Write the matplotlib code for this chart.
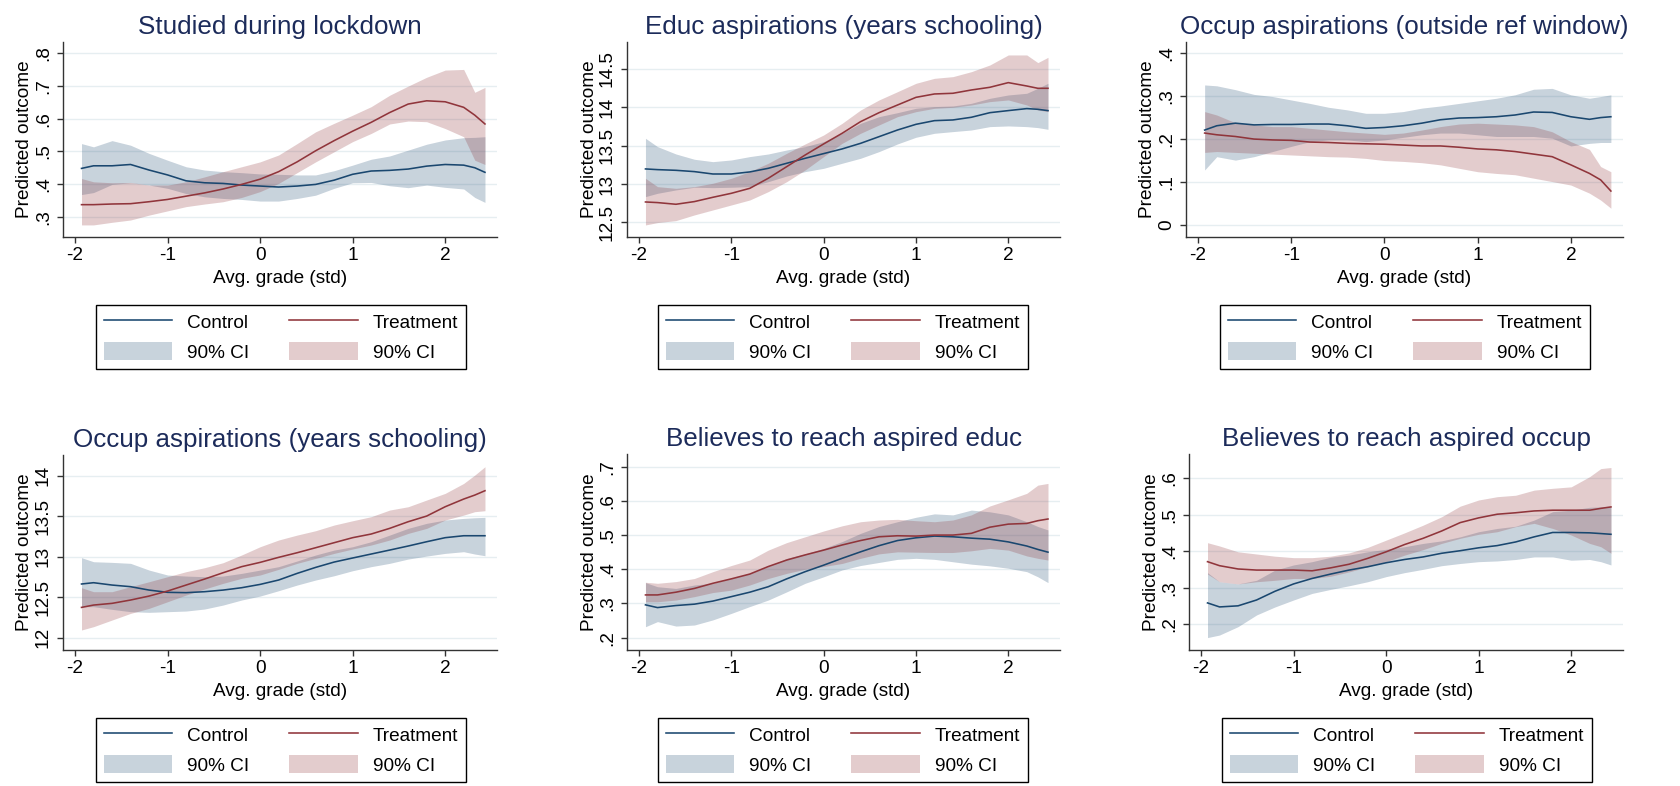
"""Predicted outcome by average grade, control vs treatment, six outcomes (Stata-style grid)."""
import matplotlib

matplotlib.use("Agg")
import matplotlib.pyplot as plt  # noqa: E402
from matplotlib.lines import Line2D  # noqa: E402
from matplotlib.patches import Patch  # noqa: E402

plt.rcParams["font.family"] = ["Liberation Sans", "DejaVu Sans"]

NAVY = "#1a476f"
MAROON = "#90353b"
TITLE = "#1c2b5a"
GRID = "#e6eef1"
AXIS = "#333333"

W, H = 1680, 786
FS = 13.7

# x grid of the local fits (avg. grade, std)
XS = [-1.93, -1.8, -1.6, -1.4, -1.2, -1.0, -0.8, -0.6, -0.4, -0.2, 0.0, 0.2,
      0.4, 0.6, 0.8, 1.0, 1.2, 1.4, 1.6, 1.8, 2.0, 2.2, 2.32, 2.43]

# 1. Studied during lockdown
studied_ctrl = [0.448, 0.456, 0.456, 0.460, 0.443, 0.428, 0.410, 0.404, 0.402, 0.397, 0.394, 0.391,
                0.394, 0.399, 0.412, 0.430, 0.440, 0.442, 0.446, 0.455, 0.460, 0.458, 0.450, 0.436]
studied_ctrl_hi = [0.524, 0.514, 0.533, 0.519, 0.494, 0.473, 0.453, 0.443, 0.438, 0.435, 0.431, 0.430,
                   0.428, 0.428, 0.441, 0.458, 0.476, 0.486, 0.504, 0.522, 0.535, 0.542, 0.543, 0.545]
studied_ctrl_lo = [0.368, 0.374, 0.399, 0.404, 0.397, 0.387, 0.371, 0.361, 0.356, 0.353, 0.348, 0.348,
                   0.356, 0.366, 0.387, 0.404, 0.405, 0.395, 0.389, 0.397, 0.390, 0.385, 0.359, 0.344]
studied_treat = [0.337, 0.337, 0.339, 0.340, 0.346, 0.353, 0.363, 0.373, 0.385, 0.399, 0.415, 0.438,
                 0.468, 0.502, 0.533, 0.562, 0.589, 0.619, 0.645, 0.655, 0.652, 0.635, 0.611, 0.584]
studied_treat_hi = [0.417, 0.407, 0.404, 0.405, 0.397, 0.397, 0.407, 0.422, 0.438, 0.453, 0.468, 0.489,
                    0.524, 0.560, 0.586, 0.611, 0.637, 0.672, 0.700, 0.727, 0.749, 0.751, 0.681, 0.696]
studied_treat_lo = [0.275, 0.275, 0.283, 0.290, 0.305, 0.318, 0.331, 0.339, 0.346, 0.359, 0.377, 0.402,
                    0.435, 0.468, 0.499, 0.530, 0.555, 0.584, 0.593, 0.591, 0.570, 0.545, 0.473, 0.460]

# 2. Educ aspirations (years schooling)
educ_ctrl = [13.196, 13.187, 13.178, 13.161, 13.130, 13.130, 13.157, 13.204, 13.270, 13.335, 13.396, 13.457,
             13.530, 13.617, 13.704, 13.778, 13.826, 13.835, 13.870, 13.930, 13.957, 13.983, 13.974, 13.957]
educ_ctrl_hi = [13.596, 13.487, 13.391, 13.322, 13.291, 13.313, 13.357, 13.391, 13.443, 13.487, 13.552, 13.661,
                13.791, 13.878, 13.930, 13.987, 14.009, 14.017, 14.052, 14.117, 14.161, 14.183, 14.248, 14.313]
educ_ctrl_lo = [12.835, 12.878, 12.922, 12.957, 12.952, 12.957, 12.965, 13.030, 13.104, 13.161, 13.204, 13.270,
                13.335, 13.422, 13.522, 13.609, 13.661, 13.683, 13.704, 13.748, 13.757, 13.748, 13.735, 13.713]
educ_treat = [12.765, 12.757, 12.735, 12.770, 12.826, 12.878, 12.943, 13.074, 13.226, 13.378, 13.522, 13.661,
              13.813, 13.930, 14.030, 14.130, 14.174, 14.183, 14.226, 14.261, 14.322, 14.278, 14.248, 14.248]
educ_treat_hi = [13.074, 12.965, 12.943, 12.965, 13.009, 13.074, 13.161, 13.270, 13.400, 13.522, 13.639, 13.791,
                 13.965, 14.096, 14.204, 14.313, 14.378, 14.400, 14.465, 14.552, 14.683, 14.683, 14.583, 14.652]
educ_treat_lo = [12.465, 12.496, 12.522, 12.596, 12.661, 12.726, 12.791, 12.900, 13.030, 13.183, 13.357, 13.530,
                 13.661, 13.770, 13.878, 13.943, 13.987, 14.000, 14.030, 14.074, 14.096, 14.030, 13.965, 13.943]

# 3. Occup aspirations (outside ref window)
outside_ctrl = [0.221, 0.231, 0.237, 0.233, 0.234, 0.234, 0.235, 0.235, 0.231, 0.225, 0.227, 0.231,
                0.237, 0.245, 0.249, 0.250, 0.252, 0.256, 0.263, 0.262, 0.252, 0.246, 0.250, 0.252]
outside_ctrl_hi = [0.326, 0.324, 0.315, 0.304, 0.299, 0.291, 0.283, 0.274, 0.268, 0.260, 0.260, 0.264,
                   0.272, 0.277, 0.283, 0.289, 0.295, 0.303, 0.316, 0.318, 0.303, 0.295, 0.299, 0.303]
outside_ctrl_lo = [0.128, 0.159, 0.151, 0.159, 0.171, 0.183, 0.194, 0.198, 0.198, 0.194, 0.198, 0.204,
                   0.210, 0.214, 0.214, 0.210, 0.206, 0.206, 0.206, 0.202, 0.184, 0.190, 0.192, 0.192]
outside_treat = [0.214, 0.210, 0.206, 0.200, 0.198, 0.197, 0.193, 0.192, 0.190, 0.189, 0.188, 0.186,
                 0.184, 0.184, 0.181, 0.177, 0.175, 0.171, 0.165, 0.159, 0.140, 0.120, 0.105, 0.079]
outside_treat_hi = [0.264, 0.256, 0.238, 0.233, 0.229, 0.229, 0.225, 0.221, 0.217, 0.214, 0.211, 0.214,
                    0.221, 0.229, 0.235, 0.237, 0.235, 0.233, 0.229, 0.217, 0.194, 0.176, 0.136, 0.124]
outside_treat_lo = [0.169, 0.171, 0.169, 0.167, 0.165, 0.163, 0.161, 0.159, 0.158, 0.155, 0.150, 0.148,
                    0.145, 0.140, 0.132, 0.124, 0.120, 0.117, 0.109, 0.101, 0.093, 0.074, 0.058, 0.039]

# 4. Occup aspirations (years schooling)
occyrs_ctrl = [12.663, 12.679, 12.650, 12.630, 12.588, 12.560, 12.556, 12.568, 12.588, 12.617, 12.658, 12.712,
               12.794, 12.868, 12.934, 12.984, 13.033, 13.082, 13.132, 13.185, 13.235, 13.259, 13.259, 13.259]
occyrs_ctrl_hi = [12.988, 12.938, 12.930, 12.918, 12.835, 12.774, 12.761, 12.753, 12.761, 12.794, 12.835, 12.877,
                  12.947, 13.021, 13.082, 13.123, 13.185, 13.267, 13.350, 13.412, 13.453, 13.473, 13.481, 13.486]
occyrs_ctrl_lo = [12.383, 12.383, 12.350, 12.321, 12.313, 12.321, 12.329, 12.354, 12.403, 12.465, 12.514, 12.580,
                  12.650, 12.712, 12.765, 12.827, 12.877, 12.918, 12.971, 13.008, 13.041, 13.062, 13.033, 13.012]
occyrs_treat = [12.374, 12.403, 12.424, 12.465, 12.514, 12.576, 12.650, 12.724, 12.802, 12.877, 12.930, 12.992,
                13.049, 13.111, 13.173, 13.235, 13.280, 13.350, 13.432, 13.502, 13.617, 13.712, 13.761, 13.815]
occyrs_treat_hi = [12.617, 12.568, 12.568, 12.630, 12.691, 12.753, 12.815, 12.864, 12.926, 13.021, 13.123, 13.206,
                   13.267, 13.321, 13.391, 13.444, 13.494, 13.576, 13.617, 13.700, 13.782, 13.905, 14.008, 14.111]
occyrs_treat_lo = [12.095, 12.136, 12.218, 12.300, 12.362, 12.444, 12.527, 12.601, 12.671, 12.733, 12.774, 12.844,
                   12.918, 12.979, 13.041, 13.095, 13.144, 13.206, 13.288, 13.350, 13.453, 13.514, 13.556, 13.568]

# 5. Believes to reach aspired educ
reached_ctrl = [0.296, 0.288, 0.294, 0.298, 0.307, 0.320, 0.333, 0.349, 0.372, 0.393, 0.412, 0.432,
                0.451, 0.469, 0.484, 0.492, 0.497, 0.495, 0.491, 0.488, 0.480, 0.468, 0.458, 0.450]
reached_ctrl_hi = [0.361, 0.349, 0.344, 0.354, 0.359, 0.373, 0.388, 0.408, 0.432, 0.445, 0.461, 0.481,
                   0.505, 0.525, 0.539, 0.552, 0.562, 0.559, 0.573, 0.568, 0.559, 0.539, 0.525, 0.515]
reached_ctrl_lo = [0.232, 0.247, 0.234, 0.237, 0.252, 0.271, 0.291, 0.310, 0.334, 0.359, 0.378, 0.398,
                   0.411, 0.420, 0.429, 0.432, 0.429, 0.422, 0.415, 0.410, 0.403, 0.393, 0.378, 0.361]
reached_treat = [0.325, 0.325, 0.333, 0.344, 0.359, 0.372, 0.386, 0.408, 0.427, 0.442, 0.456, 0.471,
                 0.484, 0.495, 0.498, 0.497, 0.500, 0.500, 0.505, 0.523, 0.532, 0.534, 0.542, 0.547]
reached_treat_hi = [0.362, 0.359, 0.364, 0.373, 0.393, 0.411, 0.427, 0.456, 0.478, 0.495, 0.512, 0.527,
                    0.539, 0.544, 0.546, 0.542, 0.539, 0.544, 0.559, 0.585, 0.603, 0.622, 0.646, 0.651]
reached_treat_lo = [0.305, 0.305, 0.310, 0.320, 0.332, 0.339, 0.354, 0.373, 0.388, 0.400, 0.408, 0.417,
                    0.432, 0.445, 0.451, 0.450, 0.449, 0.449, 0.454, 0.461, 0.456, 0.439, 0.432, 0.427]

# 6. Believes to reach aspired occup
roccup_ctrl = [0.259, 0.248, 0.251, 0.267, 0.291, 0.311, 0.326, 0.338, 0.349, 0.358, 0.369, 0.378,
               0.385, 0.395, 0.402, 0.410, 0.416, 0.426, 0.440, 0.452, 0.452, 0.451, 0.449, 0.447]
roccup_ctrl_hi = [0.342, 0.317, 0.311, 0.321, 0.349, 0.363, 0.372, 0.384, 0.390, 0.399, 0.406, 0.413,
                  0.422, 0.429, 0.440, 0.454, 0.463, 0.469, 0.486, 0.509, 0.513, 0.521, 0.522, 0.522]
roccup_ctrl_lo = [0.164, 0.171, 0.194, 0.226, 0.248, 0.267, 0.285, 0.296, 0.306, 0.317, 0.331, 0.342,
                  0.351, 0.361, 0.367, 0.372, 0.374, 0.378, 0.385, 0.385, 0.376, 0.378, 0.372, 0.363]
roccup_treat = [0.372, 0.361, 0.352, 0.349, 0.349, 0.349, 0.347, 0.355, 0.365, 0.381, 0.399, 0.419,
                0.436, 0.456, 0.479, 0.492, 0.502, 0.506, 0.511, 0.513, 0.513, 0.513, 0.518, 0.522]
roccup_treat_hi = [0.424, 0.415, 0.399, 0.393, 0.387, 0.383, 0.383, 0.387, 0.396, 0.411, 0.431, 0.451,
                   0.472, 0.495, 0.524, 0.541, 0.550, 0.554, 0.568, 0.573, 0.577, 0.605, 0.627, 0.630]
roccup_treat_lo = [0.338, 0.317, 0.311, 0.317, 0.321, 0.326, 0.326, 0.332, 0.344, 0.358, 0.372, 0.390,
                   0.405, 0.422, 0.436, 0.447, 0.454, 0.468, 0.477, 0.463, 0.445, 0.422, 0.413, 0.395]

TITLES = [
    "Studied during lockdown",
    "Educ aspirations (years schooling)",
    "Occup aspirations (outside ref window)",
    "Occup aspirations (years schooling)",
    "Believes to reach aspired educ",
    "Believes to reach aspired occup",
]
YTICKS = [
    [0.3, 0.4, 0.5, 0.6, 0.7, 0.8],
    [12.5, 13, 13.5, 14, 14.5],
    [0, 0.1, 0.2, 0.3, 0.4],
    [12, 12.5, 13, 13.5, 14],
    [0.2, 0.3, 0.4, 0.5, 0.6, 0.7],
    [0.2, 0.3, 0.4, 0.5, 0.6],
]
YTICKLABELS = [
    [".3", ".4", ".5", ".6", ".7", ".8"],
    ["12.5", "13", "13.5", "14", "14.5"],
    ["0", ".1", ".2", ".3", ".4"],
    ["12", "12.5", "13", "13.5", "14"],
    [".2", ".3", ".4", ".5", ".6", ".7"],
    [".2", ".3", ".4", ".5", ".6"],
]
XTICKS = [-2, -1, 0, 1, 2]

SERIES = [
    (studied_ctrl, studied_ctrl_lo, studied_ctrl_hi, studied_treat, studied_treat_lo, studied_treat_hi),
    (educ_ctrl, educ_ctrl_lo, educ_ctrl_hi, educ_treat, educ_treat_lo, educ_treat_hi),
    (outside_ctrl, outside_ctrl_lo, outside_ctrl_hi, outside_treat, outside_treat_lo, outside_treat_hi),
    (occyrs_ctrl, occyrs_ctrl_lo, occyrs_ctrl_hi, occyrs_treat, occyrs_treat_lo, occyrs_treat_hi),
    (reached_ctrl, reached_ctrl_lo, reached_ctrl_hi, reached_treat, reached_treat_lo, reached_treat_hi),
    (roccup_ctrl, roccup_ctrl_lo, roccup_ctrl_hi, roccup_treat, roccup_treat_lo, roccup_treat_hi),
]

# layout in pixels: axes (left, right, top, bottom), y limits, legend centre
AX_PX = [(63, 497, 42, 237), (627, 1060, 42, 237), (1186, 1623, 42, 237),
         (63, 497, 455, 650), (627, 1060, 454, 650), (1189, 1623, 454, 650)]
YLIMS = [(0.238, 0.835), (12.308, 14.852), (-0.028, 0.426),
         (11.848, 14.256), (0.164, 0.737), (0.130, 0.667)]
LEG_PX = [(281, 337), (843, 337), (1405, 337), (281, 750), (843, 750), (1407, 750)]

fig = plt.figure(figsize=(W / 100, H / 100), dpi=100)
fig.patch.set_facecolor("white")

for i in range(6):
    x0, x1, yt, yb = AX_PX[i]
    ax = fig.add_axes([x0 / W, 1 - yb / H, (x1 - x0) / W, (yb - yt) / H])
    c, clo, chi, t, tlo, thi = SERIES[i]

    ax.fill_between(XS, clo, chi, color=NAVY, alpha=0.24, lw=0)
    ax.fill_between(XS, tlo, thi, color=MAROON, alpha=0.25, lw=0)
    ax.plot(XS, c, color=NAVY, lw=1.15)
    ax.plot(XS, t, color=MAROON, lw=1.15)

    ax.set_xlim(-2.13, 2.56)
    ax.set_ylim(*YLIMS[i])
    ax.set_xticks(XTICKS)
    ax.set_xticklabels([str(v) for v in XTICKS])
    ax.set_yticks(YTICKS[i])
    ax.set_yticklabels(YTICKLABELS[i], rotation=90, va="center")
    ax.grid(axis="y", color=GRID, lw=1.0)
    ax.set_axisbelow(True)
    for side in ("top", "right"):
        ax.spines[side].set_visible(False)
    for side in ("left", "bottom"):
        ax.spines[side].set_color(AXIS)
        ax.spines[side].set_linewidth(1.0)
    ax.tick_params(axis="both", colors=AXIS, labelcolor="black", length=4.5,
                   width=1.0, labelsize=FS)
    ax.tick_params(axis="y", pad=3.5)
    ax.tick_params(axis="x", pad=2.5)

    ax.set_title(TITLES[i], fontsize=18.7, color=TITLE, pad=5.5)
    ax.set_xlabel("Avg. grade (std)", fontsize=FS, labelpad=4.5)
    ax.set_ylabel("Predicted outcome", fontsize=FS, labelpad=1)

    handles = [
        Line2D([], [], color=NAVY, lw=1.15),
        Patch(facecolor=NAVY, alpha=0.24, lw=0),
        Line2D([], [], color=MAROON, lw=1.15),
        Patch(facecolor=MAROON, alpha=0.25, lw=0),
    ]
    labels = ["Control", "90% CI", "Treatment", "90% CI"]
    lx, ly = LEG_PX[i]
    leg = ax.legend(handles, labels, ncol=2, loc="center",
                    bbox_to_anchor=(lx / W, 1 - ly / H), bbox_transform=fig.transFigure,
                    fontsize=FS, handlelength=3.6, handleheight=1.05, handletextpad=0.8,
                    columnspacing=2.1, labelspacing=0.55, borderpad=0.4,
                    fancybox=False, framealpha=1.0, edgecolor="black")
    leg.get_frame().set_linewidth(1.0)

fig.savefig("out.png", dpi=100, facecolor="white")
